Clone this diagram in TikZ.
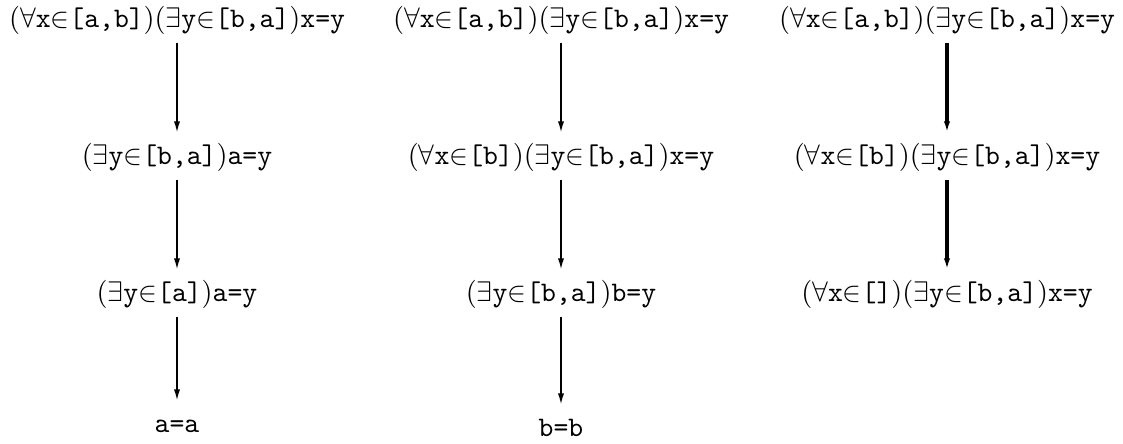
\documentclass[tikz,border=0pt]{standalone}
\usepackage{amssymb}
\usetikzlibrary{arrows.meta}
\newcommand{\tx}[1]{\texttt{#1}}
\newcommand{\fa}[1]{$(\forall\tx{x}{\in}\tx{[#1]})$}
\newcommand{\ex}[1]{$(\exists\tx{y}{\in}\tx{[#1]})$}

\begin{document}
\begin{tikzpicture}[x=0.3535pt, y=-0.3535pt,
			>={Latex[length=4pt,width=2.2pt]},   %arrow tips
			stmt/.style={inner sep=0pt, text height=7.5pt, text depth=2.5pt},
			deduce/.style={->, semithick, shorten <=2.8pt, shorten >=3.4pt},
			deducebold/.style={deduce, line width=1.1pt}]
			%page
			\useasboundingbox (0,0) rectangle (1123,443);
			% first column
			\node[stmt] (a1) at (177,20)  {\fa{a,b}\ex{b,a}\tx{x=y}};
			\node[stmt] (a2) at (177,157) {\ex{b,a}\tx{a=y}};
			\node[stmt] (a3) at (177,294) {\ex{a}\tx{a=y}};
			\node[stmt] (a4) at (177,425) {\tx{a=a}};
			% second column
			\node[stmt] (b1) at (561,20)  {\fa{a,b}\ex{b,a}\tx{x=y}};
			\node[stmt] (b2) at (561,157) {\fa{b}\ex{b,a}\tx{x=y}};
			\node[stmt] (b3) at (561,294) {\ex{b,a}\tx{b=y}};
			\node[stmt] (b4) at (561,429) {\tx{b=b}};
			% third column
			\node[stmt] (c1) at (947,20)  {\fa{a,b}\ex{b,a}\tx{x=y}};
			\node[stmt] (c2) at (947,157) {\fa{b}\ex{b,a}\tx{x=y}};
			\node[stmt] (c3) at (947,294) {\fa{}\ex{b,a}\tx{x=y}};
			% arrows
			\foreach \u/\v in {a1/a2,a2/a3,a3/a4,b1/b2,b2/b3,b3/b4}
				\draw[deduce] (\u) -- (\v);
			\foreach \u/\v in {c1/c2,c2/c3}
				\draw[deducebold] (\u) -- (\v);
		\end{tikzpicture}
\end{document}
